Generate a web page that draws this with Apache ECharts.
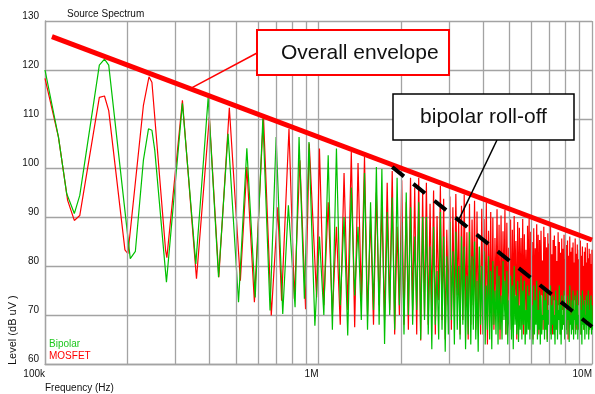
<!DOCTYPE html>
<html><head><meta charset="utf-8">
<script src="https://cdn.jsdelivr.net/npm/echarts@6/dist/echarts.min.js"></script>
<style>html,body{margin:0;padding:0;background:#fff}#c{width:595px;height:394px}</style>
</head><body><div id="c"></div>
<script>
// ---- tick labels ----
const xTickValues = [100000, 1000000, 10000000];
const xTickLabels = ['100k', '1M', '10M'];
const minorGridFreqs = [200000,300000,400000,500000,600000,700000,800000,900000,
  2000000,3000000,4000000,5000000,6000000,7000000,8000000,9000000];

// ---- low-frequency part (kHz, dBuV) ----
const bipolarLowFreq = [100,112,120,128,134,158,165,171,205,214,229,239,246,252,278,318,356,395,431,467,510,547,587,626,665,700,740,776,821,849,888,923,970];
const bipolarLowLevel = [120,106.3,94.8,90.7,94.4,121,122.2,121,81.5,83,101.6,108,107.7,103.6,76.7,113.2,80.4,114.4,77.7,107,72.6,104,73.6,110.1,70.9,106.3,70.2,92.4,71.6,106.3,73.3,105.3,67.8];
const mosfetLowFreq = [100,112,121,128,134,158,165,171,196,201,229,240,246,276,279,318,358,399,432,472,518,547,583,629,672,710,733,780,816,855,897,925,984];
const mosfetLowLevel = [118.3,106.3,93.4,89.3,90.3,114.4,114.7,111.7,83.3,82.5,112.8,118.6,117.5,83.2,81.7,113.8,77.4,110.4,77.7,112.3,77,100.2,72.6,110.8,69.9,92,72.9,108,73.3,101.6,71.2,105,73.6];

// ---- harmonic peaks / dips above 1 MHz (kHz) ----
const peakFreqKHz = [
  1008,1085,1163,1240,1318,1395,1473,1550,1628,1705,
  1783,1860,1938,2015,2093,2170,2248,2325,2403,2480,
  2558,2635,2713,2790,2868,2945,3023,3100,3178,3255,
  3333,3410,3488,3565,3643,3720,3798,3875,3953,4030,
  4108,4185,4263,4340,4418,4495,4573,4650,4728,4805,
  4883,4960,5038,5115,5193,5270,5348,5425,5503,5580,
  5658,5735,5813,5890,5968,6045,6123,6200,6278,6355,
  6433,6510,6588,6665,6743,6820,6898,6975,7053,7130,
  7208,7285,7363,7440,7518,7595,7673,7750,7828,7905,
  7983,8060,8138,8215,8293,8370,8448,8525,8603,8680,
  8758,8835,8913,8990,9068,9145,9223,9300,9378,9455,
  9533,9610,9688,9765,9843,9920,9998];
const dipFreqKHz = [
  1046,1124,1201,1279,1356,1434,1511,1589,1666,1744,
  1821,1899,1976,2054,2131,2209,2286,2364,2441,2519,
  2596,2674,2751,2829,2906,2984,3061,3139,3216,3294,
  3371,3449,3526,3604,3681,3759,3836,3914,3991,4069,
  4146,4224,4301,4379,4456,4534,4611,4689,4766,4844,
  4921,4999,5076,5154,5231,5309,5386,5464,5541,5619,
  5696,5774,5851,5929,6006,6084,6161,6239,6316,6394,
  6471,6549,6626,6704,6781,6859,6936,7014,7091,7169,
  7246,7324,7401,7479,7556,7634,7711,7789,7866,7944,
  8021,8099,8176,8254,8331,8409,8486,8564,8641,8719,
  8796,8874,8951,9029,9106,9184,9261,9339,9416,9494,
  9571,9649,9726,9804,9881,9959,10036];
const bipolarPeaks = [
  86,102.6,104,90,96,88,99,93,100.2,99.8,
  91,94,98,89,95,92,86,93,90,90,
  84,88,79,91,86,82,89,83,87,80,
  86,84,78,87,82,85,77,84,80,83,
  76,82,79,81,75,80,78,74,81,77,
  79,73,78,76,80,74,77,72,78,75,
  77,71,76,74,78,72,76,73,77,71,
  75,74,70,76,73,75,71,74,76,72,
  74,70,75,73,71,76,72,74,70,75,
  73,71,74,72,76,70,73,75,71,74,
  72,75,70,73,74,71,75,72,73,70,
  74,72,75,71,73,74,72];
const bipolarDips = [
  70,67,72,65.8,74,69,67,71,68,64.1,
  70,67,72,66,70,68,71,65,69,66,
  63,68,65,67,62.5,66,69,64,67,65,
  68,63,66,64,67,65,62.5,68,66,64,
  67,65,63,68,66,64,67,65,69,66,
  64,67,65,63,68,66,64.5,67,65,68,
  64,66,67,65,69,64,66,68,65,67,
  64,66,69,65,67,64.5,68,66,65,68,
  66,64,67,65,69,66,64,67,68,65,
  67,66,69,64.5,68,66,67,65,69,66,
  68,65,67,69,66,64,68,67,65,68,
  66,69,65,67,68,66,67];
const mosfetPeaks = [
  104,93,88,99,103.3,101,102.3,90,95,92,
  97,99.4,88,97.5,93,98,96,98,95,97,
  92.7,95.4,90.2,96.4,93.7,87.4,94.2,92,94.7,89.5,
  92.3,94.6,86.9,92.7,89.5,93.3,91.1,83.9,91.7,89.6,
  92.9,87.2,91,89.9,85.7,91.6,88.4,90.3,87.1,91.5,
  88.8,83.7,89.5,87.4,90.2,85.1,89,87.8,85.7,89.6,
  86.5,83.3,88.2,89.6,87,84.9,87.7,83.6,88.5,86.4,
  85.3,87.2,81.1,88,85.9,83.8,86.7,84.6,88,82.4,
  85.3,86.2,84.1,81,86.9,84.9,82.7,85.6,83.5,86.4,
  81.4,84.3,85.2,82.1,86,82.9,83.8,84.8,80.7,85.6,
  82.5,84.4,81.4,83.3,85.2,82.1,84,80,82.9,83.8,
  80.7,84.7,81.6,83.5,82.5,80.4,83.3];
const mosfetDips = [
  72,70,68,71,67.5,73,70,68,72,69,
  71,66,70,68,67,71,66,64.8,70,68,
  71,66,73,69,65,72,67,70,74,66,
  69,71,65,68,72,67,70,66,73,69,
  64,71,68,67,72,70,65,69,73,66,
  68,71,67,70,74,65,69,72,68,66,
  71,69,73,67,70,65,68,72,69,66,
  71,74,67,70,68,65,72,69,71,66,
  73,68,70,67,72,69,66,71,68,74,
  67,70,65,72,69,68,71,66,73,70,
  67,69,72,68,66,71,70,67,73,69,
  68,72,66,70,71,68,69];

// ---- straight reference lines (Hz, dBuV) ----
const envelopeFreq = [106000, 10000000];
const envelopeLevel = [126.8, 85.3];
const rolloffFreq = [1860000, 10000000];
const rolloffLevel = [100.2, 67.6];

// ---- build series data ----
function buildSeries(lowF, lowL, pkL, dpL) {
  const out = lowF.map((f, i) => [f * 1000, lowL[i]]);
  for (let i = 0; i < peakFreqKHz.length; i++) {
    out.push([peakFreqKHz[i] * 1000, pkL[i]]);
    out.push([dipFreqKHz[i] * 1000, dpL[i]]);
  }
  return out;
}
const bipolarData = buildSeries(bipolarLowFreq, bipolarLowLevel, bipolarPeaks, bipolarDips);
const mosfetData = buildSeries(mosfetLowFreq, mosfetLowLevel, mosfetPeaks, mosfetDips);

const FONT = '"Liberation Sans", Arial, sans-serif';
const GRID = '#a3a3a3';
const RED = '#ff0000';
const GREEN = '#00c000';

const chart = echarts.init(document.getElementById('c'), null, {renderer: 'canvas'});
chart.setOption({
  animation: false,
  textStyle: {fontFamily: FONT},
  title: {text: 'Source Spectrum', left: 67, top: 9, padding: 0,
    textStyle: {fontSize: 10, fontWeight: 'normal', color: '#111', fontFamily: FONT}},
  legend: {
    orient: 'vertical', left: 44, top: 339, padding: 0, itemGap: 2,
    itemWidth: 0, itemHeight: 0, icon: 'rect', selectedMode: false,
    data: [
      {name: 'Bipolar', textStyle: {color: '#20c820'}},
      {name: 'MOSFET', textStyle: {color: RED}}
    ],
    textStyle: {fontSize: 10, fontFamily: FONT}
  },
  grid: {left: 45, right: 0, top: 21, bottom: 30},
  xAxis: {
    type: 'log', logBase: 10, min: 100000, max: 10000000,
    axisLine: {show: true, lineStyle: {color: GRID, width: 1.3}},
    axisTick: {show: false},
    splitLine: {show: true, lineStyle: {color: GRID, width: 1.3}},
    axisLabel: {
      align: 'right', margin: 5, fontSize: 10, color: '#111', fontFamily: FONT,
      showMinLabel: true, showMaxLabel: true,
      formatter: function (v) {
        const i = xTickValues.findIndex(t => Math.abs(t - v) / t < 1e-6);
        return i >= 0 ? xTickLabels[i] : '';
      }
    }
  },
  yAxis: {
    type: 'value', min: 60, max: 130, interval: 10,
    axisLine: {show: true, lineStyle: {color: GRID, width: 1.3}},
    axisTick: {show: false},
    splitLine: {show: true, lineStyle: {color: GRID, width: 1.3}},
    axisLabel: {margin: 6, fontSize: 10, color: '#111', verticalAlign: 'bottom', fontFamily: FONT}
  },
  series: [
    {
      name: 'minor grid', type: 'line', data: [], silent: true, z: 1,
      markLine: {
        silent: true, symbol: ['none', 'none'], label: {show: false},
        lineStyle: {color: GRID, width: 1.3, type: 'solid'},
        emphasis: {disabled: true},
        data: minorGridFreqs.map(f => ({xAxis: f}))
      }
    },
    {
      name: 'MOSFET', type: 'line', data: mosfetData, symbol: 'none', z: 3,
      lineStyle: {color: RED, width: 1.2}, itemStyle: {color: RED}
    },
    {
      name: 'Bipolar', type: 'line', data: bipolarData, symbol: 'none', z: 4,
      lineStyle: {color: GREEN, width: 1.2}, itemStyle: {color: GREEN}
    },
    {
      name: 'Overall envelope', type: 'line', symbol: 'none', z: 6,
      data: envelopeFreq.map((f, i) => [f, envelopeLevel[i]]),
      lineStyle: {color: RED, width: 5}
    },
    {
      name: 'bipolar roll-off', type: 'line', symbol: 'none', z: 6,
      data: rolloffFreq.map((f, i) => [f, rolloffLevel[i]]),
      lineStyle: {color: '#000', width: 4, type: [15, 12], cap: 'butt'}
    }
  ]
});

// annotations: callout boxes with leaders to points on the lines
const envAnchor = chart.convertToPixel({gridIndex: 0}, [345000, 116.4]);
const rollAnchor = chart.convertToPixel({gridIndex: 0}, [3250000, 89.3]);
chart.setOption({
  graphic: [
    {type: 'line', z: 100, shape: {x1: 257, y1: 53, x2: envAnchor[0], y2: envAnchor[1]},
      style: {stroke: RED, lineWidth: 1.5}},
    {type: 'rect', z: 100, shape: {x: 257, y: 30, width: 192, height: 45},
      style: {fill: '#fff', stroke: RED, lineWidth: 2}},
    {type: 'text', z: 101, x: 281, y: 53,
      style: {text: 'Overall envelope', font: '21px ' + FONT, fill: '#111', align: 'left', verticalAlign: 'middle'}},
    {type: 'line', z: 100, shape: {x1: 497, y1: 140, x2: rollAnchor[0], y2: rollAnchor[1]},
      style: {stroke: '#000', lineWidth: 1.5}},
    {type: 'rect', z: 100, shape: {x: 393, y: 94, width: 181, height: 46},
      style: {fill: '#fff', stroke: '#000', lineWidth: 1.5}},
    {type: 'text', z: 101, x: 483.5, y: 117,
      style: {text: 'bipolar roll-off', font: '21px ' + FONT, fill: '#111', align: 'center', verticalAlign: 'middle'}},
    {type: 'text', z: 101, x: 13, y: 365, rotation: Math.PI / 2,
      style: {text: 'Level (dB uV )', font: '11px ' + FONT, fill: '#111', align: 'left', verticalAlign: 'middle'}},
    {type: 'text', z: 101, x: 45, y: 388,
      style: {text: 'Frequency (Hz)', font: '10px ' + FONT, fill: '#111', align: 'left', verticalAlign: 'middle'}}
  ]
});
</script></body></html>
